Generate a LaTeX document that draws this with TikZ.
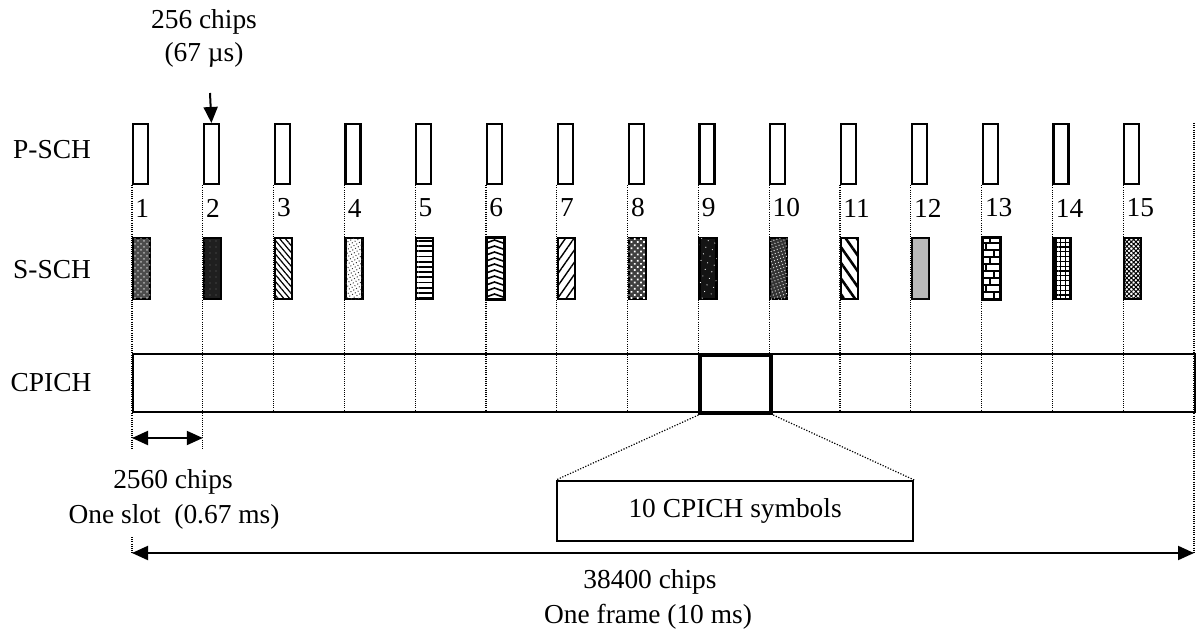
\documentclass[tikz,border=0pt]{standalone}
\usepackage{fontspec}
\setmainfont{Liberation Serif}
\usetikzlibrary{arrows.meta,patterns,patterns.meta,calc}
\begin{document}
\begin{tikzpicture}[x=0.5pt,y=-0.5pt,
  font=\fontsize{13.7}{16}\selectfont,
  txt/.style={inner sep=0pt, anchor=center},
  pbox/.style={draw, line width=1.1pt, fill=white, minimum width=7.5pt, minimum height=30pt, inner sep=0pt, anchor=north west},
  sbox/.style={draw, line width=1.1pt, fill=white, minimum width=8.5pt, minimum height=30.5pt, inner sep=0pt, anchor=north west},
  sep/.style={line width=0.6pt, dash pattern=on 0.5pt off 0.6pt},
  zoomline/.style={line width=0.6pt, dash pattern=on 0.6pt off 0.8pt},
  arr/.style={line width=1pt, -{Triangle[length=8pt,width=7pt]}},
  darr/.style={line width=1pt, {Triangle[length=8pt,width=7pt]}-{Triangle[length=8pt,width=7pt]}},
  pat1/.style={fill=black!70, postaction={pattern=crosshatch dots, pattern color=white!70!black}},
  pat2/.style={fill=black!88, postaction={pattern={Dots[distance=3pt,radius=0.3pt]}, pattern color=black!60}},
  pat3/.style={postaction={pattern={Lines[angle=-50,distance=2.2pt,line width=0.6pt]}}},
  pat4/.style={postaction={pattern={Dots[distance=1.6pt,radius=0.35pt,angle=30]}, pattern color=black!80}},
  pat5/.style={postaction={pattern={Lines[angle=0,distance=2.6pt,line width=0.9pt]}}},
  pat7/.style={postaction={pattern={Lines[angle=55,distance=3.5pt,line width=0.7pt]}}},
  pat8/.style={fill=black!75, postaction={pattern={Dots[distance=2.2pt,radius=0.6pt,angle=45]}, pattern color=white}},
  pat9/.style={fill=black!92, postaction={pattern={Dots[distance=3.5pt,radius=0.3pt,angle=70]}, pattern color=white}},
  pat10/.style={fill=black!80, postaction={pattern={Dots[distance=1.6pt,radius=0.35pt,angle=20]}, pattern color=white!85!black}},
  pat11/.style={postaction={pattern={Lines[angle=-55,distance=4.5pt,line width=1.3pt]}}},
  pat12/.style={fill=black!25, postaction={pattern={Dots[distance=1pt,radius=0.2pt]}, pattern color=black!50}},
  pat13/.style={},
  pat14/.style={postaction={pattern={Hatch[angle=0,distance=2.4pt,line width=0.6pt]}}},
  pat15/.style={postaction={pattern={Hatch[angle=45,distance=1.6pt,line width=0.5pt]}}},
  pat6/.style={}
]
\fill[white] (0,0) rectangle (1198,631);
\useasboundingbox (0,0) rectangle (1198,631);

% row labels
\node[txt] (lp) at (52,150) {P-SCH};
\node[txt] (ls) at (52,270) {S-SCH};
\node[txt] (lc) at (51,383) {CPICH};

% top annotation
\node[txt] (t1) at (204,22) {256 chips};
\node[txt] (t2) at (204,55) {(67 µs)};

% CPICH box
\node[draw, line width=1.1pt, minimum width=531pt, minimum height=29pt, inner sep=0pt, anchor=north west] (cp) at (132,353) {};

% slot boundaries, P-SCH boxes, numbers
\foreach \i in {0,...,14} {
  \pgfmathsetmacro\xx{132+70.8*\i}
  \pgfmathtruncatemacro\nn{\i+1}
  \node[pbox] (p\i) at (\xx,123) {};
  \draw[sep] (p\i.south west) -- (\xx,411);
  \node[anchor=west, inner sep=0pt] (n\i) at (\xx+3,208) {\nn};
}
% right end line
\coordinate (rt) at (1194,123);
\coordinate (rb) at (1194,553);
\draw[sep] (rt) -- (rb);

% S-SCH boxes
\foreach \i in {0,...,14} {
  \pgfmathsetmacro\xx{132+70.8*\i}
  \pgfmathtruncatemacro\nn{\i+1}
  \node[sbox, pat\nn] (s\i) at (\xx,237) {};
}
% chevrons in box 6 (x from 486 to 503)
\begin{scope}
  \clip (s5.south west) rectangle (s5.north east);
  \foreach \yy in {240,246,...,300} {
    \draw[line width=0.8pt] (486,\yy+3) -- (494.5,\yy) -- (503,\yy+3);
  }
\end{scope}
\draw[line width=1.1pt] (s5.south west) rectangle (s5.north east);
% small bricks in box 13 (x from 981.6 to 998.6)
\begin{scope}
  \clip (s12.south west) rectangle (s12.north east);
  \foreach \yy in {243,250,...,298} {
    \draw[line width=0.6pt] (981,\yy) -- (999,\yy);
  }
  \foreach \yy/\bx in {237/990,243/986,250/994,257/990,264/986,271/994,278/990,285/986,292/994} {
    \draw[line width=0.6pt] (\bx,\yy) -- (\bx,\yy+7);
  }
\end{scope}
\draw[line width=1.1pt] (s12.south west) rectangle (s12.north east);

% selected slot (thick)
\node[draw, line width=2pt, minimum width=35.4pt, minimum height=29pt, inner sep=0pt, anchor=north west] (sel) at (698.4,353) {};

% down arrow to slot 2
\coordinate (da) at (210,93);
\draw[arr] (da) -- (p1.north);

% one-slot dimension
\coordinate (e1) at (132,449);
\coordinate (e2) at (202.8,449);
\draw[sep] (p0.south west|-cp.south) -- (e1);
\draw[sep] (p1.south west|-cp.south) -- (e2);
\coordinate (d1) at (132,438);
\coordinate (d2) at (202.8,438);
\draw[darr] (d1) -- (d2);
\node[txt] (sl1) at (173,482) {2560 chips};
\node[txt] (sl2) at (174,517) {One slot\ \ (0.67 ms)};

% zoom box
\node[draw, line width=1.1pt, minimum width=178pt, minimum height=30pt, inner sep=0pt, anchor=north west] (sym) at (556,480) {};
\node[txt] (symt) at (sym.center) {10 CPICH symbols};
\draw[zoomline] (sel.south west) -- (sym.north west);
\draw[zoomline] (sel.south east) -- (sym.north east);

% frame dimension
\coordinate (f1) at (132,553);
\coordinate (fl) at (132,537);
\draw[sep] (fl) -- (f1);
\draw[darr] (f1) -- (rb);
\node[txt] (fr1) at (650,582) {38400 chips};
\node[txt] (fr2) at (648,617) {One frame (10 ms)};
\end{tikzpicture}
\end{document}
